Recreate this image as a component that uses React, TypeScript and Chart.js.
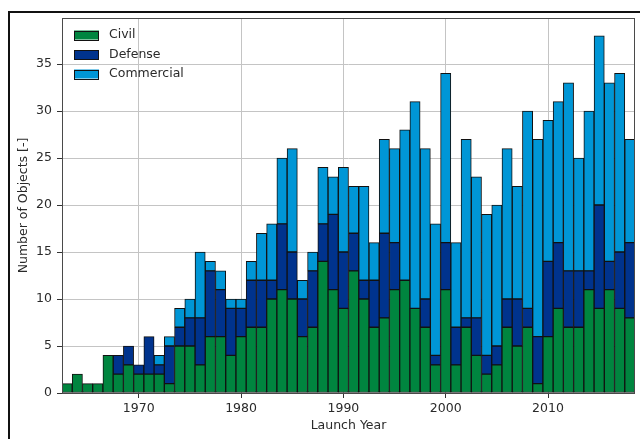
import React, { useEffect, useRef } from "react";
import { Chart, registerables } from "chart.js";

Chart.register(...registerables);

const years: number[] = [
  1963, 1964, 1965, 1966, 1967, 1968, 1969, 1970, 1971, 1972,
  1973, 1974, 1975, 1976, 1977, 1978, 1979, 1980, 1981, 1982,
  1983, 1984, 1985, 1986, 1987, 1988, 1989, 1990, 1991, 1992,
  1993, 1994, 1995, 1996, 1997, 1998, 1999, 2000, 2001, 2002,
  2003, 2004, 2005, 2006, 2007, 2008, 2009, 2010, 2011, 2012,
  2013, 2014, 2015, 2016, 2017, 2018,
];

const civil: number[] = [
  1, 2, 1, 1, 4, 2, 3, 2, 2, 2,
  1, 5, 5, 3, 6, 6, 4, 6, 7, 7,
  10, 11, 10, 6, 7, 14, 11, 9, 13, 10,
  7, 8, 11, 12, 9, 7, 3, 11, 3, 7,
  4, 2, 3, 7, 5, 7, 1, 6, 9, 7,
  7, 11, 9, 11, 9, 8,
];

const defense: number[] = [
  0, 0, 0, 0, 0, 2, 2, 1, 4, 1,
  4, 2, 3, 5, 7, 5, 5, 3, 5, 5,
  2, 7, 5, 4, 6, 4, 8, 6, 4, 2,
  5, 9, 5, 0, 0, 3, 1, 5, 4, 1,
  4, 2, 2, 3, 5, 2, 5, 8, 7, 6,
  6, 2, 11, 3, 6, 8,
];

const commercial: number[] = [
  0, 0, 0, 0, 0, 0, 0, 0, 0, 1,
  1, 2, 2, 7, 1, 2, 1, 1, 2, 5,
  6, 7, 11, 2, 2, 6, 4, 9, 5, 10,
  4, 10, 10, 16, 22, 16, 14, 18, 9, 19,
  15, 15, 15, 16, 12, 21, 21, 15, 15, 20,
  12, 17, 18, 19, 19, 11,
];

const seriesLabels: string[] = ["Civil", "Defense", "Commercial"];
const seriesColors: string[] = ["#00853f", "#00338d", "#0096d6"];
const xTickValues: number[] = [1970, 1980, 1990, 2000, 2010];
const yTickValues: number[] = [0, 5, 10, 15, 20, 25, 30, 35];

const FONT = "'DejaVu Sans', Verdana, sans-serif";

const frameAndLegend = {
  id: "frameAndLegend",
  afterDatasetsDraw(chart: any) {
    const { ctx, chartArea } = chart;
    ctx.save();
    // plot frame
    ctx.strokeStyle = "#4a4a4a";
    ctx.lineWidth = 1;
    ctx.strokeRect(
      Math.round(chartArea.left) + 0.5,
      Math.round(chartArea.top) + 0.5,
      Math.round(chartArea.right - chartArea.left) - 1,
      Math.round(chartArea.bottom - chartArea.top)
    );
    // legend
    const x0 = chartArea.left + 12;
    const y0 = chartArea.top + 17;
    const gap = 19.5;
    ctx.font = "12.5px " + FONT;
    ctx.textBaseline = "middle";
    ctx.textAlign = "left";
    chart.data.datasets.forEach((ds: any, i: number) => {
      const cy = y0 + i * gap;
      ctx.fillStyle = ds.backgroundColor;
      ctx.fillRect(x0, cy - 4.5, 25, 9);
      ctx.strokeStyle = "#111";
      ctx.lineWidth = 1;
      ctx.strokeRect(x0 + 0.5, Math.round(cy - 4.5) + 0.5, 24, 9);
      ctx.fillStyle = "#2a2a2a";
      ctx.fillText(ds.label, x0 + 35, cy);
    });
    ctx.restore();
  },
};

export default function App() {
  const canvasRef = useRef<HTMLCanvasElement | null>(null);

  useEffect(() => {
    if (!canvasRef.current) return;
    const mk = (vals: number[]) => years.map((y, i) => ({ x: y, y: vals[i] }));
    const all = [civil, defense, commercial];
    const chart = new Chart(canvasRef.current, {
      type: "bar",
      data: {
        datasets: all.map((vals, i) => ({
          label: seriesLabels[i],
          data: mk(vals),
          backgroundColor: seriesColors[i],
          borderColor: "#111",
          borderWidth: 1,
          borderSkipped: false,
          barPercentage: 1,
          categoryPercentage: 1,
        })),
      } as any,
      options: {
        responsive: false,
        animation: false,
        layout: { padding: { left: 0, right: 5, top: 18, bottom: 0 } },
        plugins: { legend: { display: false }, tooltip: { enabled: false } },
        scales: {
          x: {
            type: "linear",
            stacked: true,
            min: 1962.5,
            max: 2018.5,
            offset: false,
            afterBuildTicks: (s: any) => {
              s.ticks = xTickValues.map((v) => ({ value: v }));
            },
            afterFit: (s: any) => {
              s.height = 46;
            },
            ticks: {
              callback: (v: any) => String(v),
              color: "#2a2a2a",
              font: { family: FONT, size: 12.5 },
              padding: 3,
              maxRotation: 0,
            },
            grid: {
              offset: false,
              color: "#c4c4c4",
              tickColor: "#333",
              tickLength: 5,
              drawOnChartArea: true,
            },
            border: { display: false },
            title: {
              display: true,
              text: "Launch Year",
              color: "#2a2a2a",
              font: { family: FONT, size: 12.5 },
              padding: { top: 0, bottom: 6 },
            },
          },
          y: {
            type: "linear",
            stacked: true,
            min: 0,
            max: 39.9,
            afterBuildTicks: (s: any) => {
              s.ticks = yTickValues.map((v) => ({ value: v }));
            },
            afterFit: (s: any) => {
              s.width = 62;
            },
            ticks: {
              callback: (v: any) => String(v),
              color: "#2a2a2a",
              font: { family: FONT, size: 12.5 },
              padding: 5,
            },
            grid: {
              color: "#c4c4c4",
              tickColor: "#333",
              tickLength: 5,
            },
            border: { display: false },
            title: {
              display: true,
              text: "Number of Objects [-]",
              color: "#2a2a2a",
              font: { family: FONT, size: 12.5 },
              padding: { top: 16, bottom: 0 },
            },
          },
        },
      } as any,
      plugins: [frameAndLegend],
    });
    return () => chart.destroy();
  }, []);

  return (
    <div style={{ position: "absolute", left: 0, top: 0, width: 640, height: 439, background: "#fff", overflow: "hidden" }}>
      <canvas ref={canvasRef} width={640} height={439} style={{ display: "block", position: "absolute", left: 0, top: 0 }} />
      <div style={{ position: "absolute", left: 8, top: 11, width: 640, height: 2, background: "#111" }} />
      <div style={{ position: "absolute", left: 8, top: 11, width: 2, height: 440, background: "#111" }} />
    </div>
  );
}
